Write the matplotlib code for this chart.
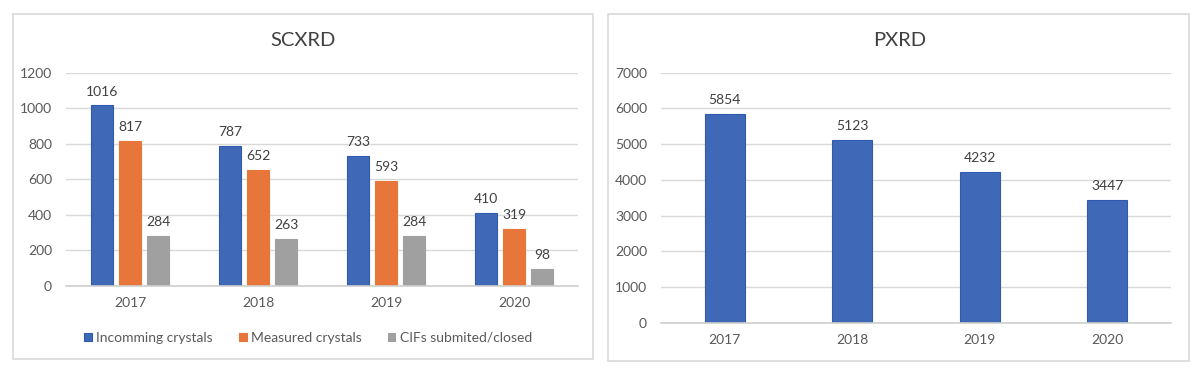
import matplotlib
matplotlib.use("Agg")
import matplotlib.pyplot as plt
from matplotlib.patches import Rectangle
import numpy as np

plt.rcParams['font.family'] = ['Lato', 'DejaVu Sans']

years = ["2017", "2018", "2019", "2020"]
scx_series = ["Incomming crystals", "Measured crystals", "CIFs submited/closed"]
scx_incoming = [1016, 787, 733, 410]
scx_measured = [817, 652, 593, 319]
scx_cifs = [284, 263, 284, 98]
pxrd_values = [5854, 5123, 4232, 3447]

colors = ["#3F68B6", "#E8763A", "#A0A0A0"]
edge_colors = ["#2F5AAE", "#E8763A", "#A0A0A0"]
grid_c = "#D9D9D9"
tick_c = "#595959"
label_c = "#404040"

fig = plt.figure(figsize=(12, 3.75), dpi=100)

W, H = 1200, 375
def fx(px): return px / W
def fy(py): return 1 - py / H

# panel frames
for x0, x1, y0, y1 in [(13, 593, 14, 359), (608, 1189, 14, 361)]:
    fig.patches.append(Rectangle((fx(x0), fy(y1)), fx(x1 - x0), (y1 - y0) / H,
                                 transform=fig.transFigure, fill=False,
                                 edgecolor="#D9D9D9", linewidth=1.2))

def style(ax, ymax, step):
    ax.set_ylim(0, ymax)
    ax.set_xlim(-0.5, 3.5)
    ax.set_yticks(np.arange(0, ymax + 1, step))
    ax.yaxis.grid(True, color=grid_c, linewidth=1)
    ax.set_axisbelow(True)
    for s in ["top", "right", "left"]:
        ax.spines[s].set_visible(False)
    ax.spines["bottom"].set_color("#CFCFCF")
    ax.spines["bottom"].set_linewidth(1.2)
    ax.tick_params(axis="both", length=0, labelsize=10, labelcolor=tick_c)
    ax.tick_params(axis="y", pad=10)
    ax.tick_params(axis="x", pad=8)
    ax.set_xticks(range(len(years)))
    ax.set_xticklabels(years)

# Left: SCXRD
ax1 = fig.add_axes([fx(66), fy(286), fx(578 - 66), (286 - 72.7) / H])
style(ax1, 1200, 200)
x = np.arange(len(years))
bw = 0.172
off = 0.22
handles = []
for i, vals in enumerate([scx_incoming, scx_measured, scx_cifs]):
    pos = x + (i - 1) * off
    b = ax1.bar(pos, vals, width=bw, color=colors[i], edgecolor=edge_colors[i],
                linewidth=0.8, label=scx_series[i])
    handles.append(b)
    for p, v in zip(pos, vals):
        ax1.annotate(str(v), (p, v), xytext=(0, 10), textcoords="offset points",
                     ha="center", va="center", fontsize=10, color=label_c)
fig.text(fx(303), fy(41), "SCXRD", ha="center", va="center", fontsize=14.5, color=label_c)
fig.legend(handles=handles, labels=scx_series, loc="center",
           bbox_to_anchor=(fx(308), fy(338)), ncol=3, frameon=False,
           fontsize=10, labelcolor=tick_c, handlelength=0.55, handleheight=0.55,
           handletextpad=0.3, columnspacing=1.9)

# Right: PXRD
ax2 = fig.add_axes([fx(661), fy(323), fx(1171 - 661), (323 - 72.7) / H])
style(ax2, 7000, 1000)
ax2.bar(x, pxrd_values, width=0.31, color=colors[0], edgecolor=edge_colors[0], linewidth=0.8)
for p, v in zip(x, pxrd_values):
    ax2.annotate(str(v), (p, v), xytext=(0, 10), textcoords="offset points",
                 ha="center", va="center", fontsize=10, color=label_c)
fig.text(fx(900), fy(41), "PXRD", ha="center", va="center", fontsize=14.5, color=label_c)

fig.savefig("out.png", dpi=100, facecolor="white")
